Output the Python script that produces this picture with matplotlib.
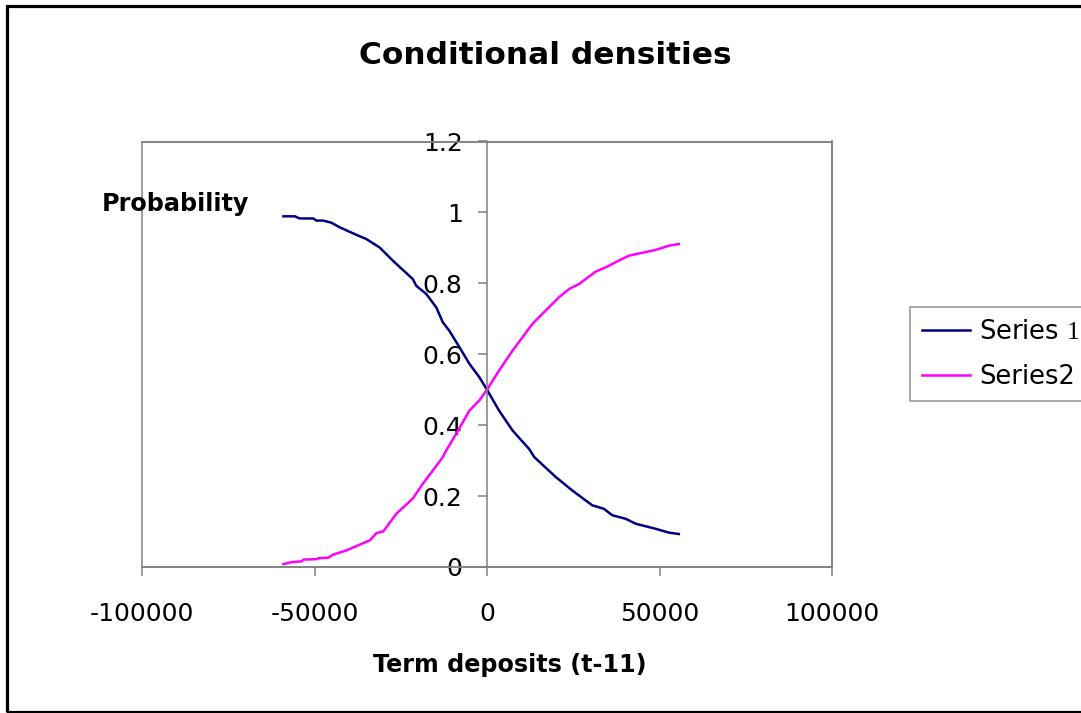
import matplotlib
matplotlib.use("Agg")
import matplotlib.pyplot as plt
from matplotlib.patches import Rectangle

# ---- data ----
x_ticks = [-100000, -50000, 0, 50000, 100000]
x_tick_labels = ["-100000", "-50000", "0", "50000", "100000"]
y_ticks = [0, 0.2, 0.4, 0.6, 0.8, 1.0, 1.2]
y_tick_labels = ["0", "0.2", "0.4", "0.6", "0.8", "1", "1.2"]

series1_x = [-59000, -55700, -54300, -50400, -49400, -47500, -45100, -42700, -37900,
             -35000, -31100, -27300, -21500, -20500, -17600, -14700, -12800, -10900,
             -8000, -5100, -2200, 0, 3500, 7400, 12200, 13700, 19900, 24700, 30500,
             33900, 36300, 40200, 43100, 48800, 52700, 55600]
series1_y = [0.989, 0.989, 0.983, 0.983, 0.977, 0.977, 0.971, 0.958, 0.937,
             0.925, 0.901, 0.864, 0.812, 0.793, 0.770, 0.732, 0.690, 0.666,
             0.620, 0.573, 0.535, 0.500, 0.441, 0.385, 0.333, 0.310, 0.254, 0.216, 0.174,
             0.164, 0.146, 0.136, 0.122, 0.108, 0.097, 0.093]

series2_x = [-59000, -56600, -53700, -53200, -49400, -48900, -46000, -44600, -40700,
             -34000, -32000, -30100, -26300, -21500, -18600, -15700, -12800, -11800,
             -8900, -5100, -2200, 0, 3500, 7400, 13200, 20900, 23800, 26700, 31500,
             34400, 38200, 41100, 48800, 52700, 55600]
series2_y = [0.008, 0.014, 0.016, 0.021, 0.022, 0.025, 0.026, 0.035, 0.047,
             0.075, 0.096, 0.100, 0.150, 0.193, 0.235, 0.272, 0.310, 0.329,
             0.376, 0.441, 0.470, 0.500, 0.554, 0.610, 0.686, 0.761, 0.784, 0.798, 0.833,
             0.845, 0.864, 0.878, 0.894, 0.906, 0.911]

series_names = ["Series $\\mathrm{1}$", "Series2"]

# ---- style ----
plt.rcParams['font.family'] = ['DejaVu Sans']
plt.rcParams['axes.unicode_minus'] = False
plt.rcParams['mathtext.fontset'] = 'custom'
plt.rcParams['mathtext.rm'] = 'Liberation Serif'

W, H = 1081, 713
fig = plt.figure(figsize=(W / 100, H / 100), dpi=100)
fig.patch.set_facecolor('white')

# outer chart border
fig.add_artist(Rectangle((7.5 / W, 1 - 711.5 / H), (1120 - 7.5) / W, (711.5 - 5.5) / H,
                         transform=fig.transFigure, fill=False, edgecolor='black',
                         linewidth=2.3, clip_on=False))

left, right, top, bottom = 142, 832, 141.5, 567
ax = fig.add_axes([left / W, 1 - bottom / H, (right - left) / W, (bottom - top) / H])

gray = '#808080'
ax.plot(series1_x, series1_y, color='#000080', linewidth=1.8, label=series_names[0])
ax.plot(series2_x, series2_y, color='#FF00FF', linewidth=1.8, label=series_names[1])

ax.set_xlim(-100000, 100000)
ax.set_ylim(0, 1.2)

ax.spines['left'].set_position(('data', 0))
for s in ['left', 'right', 'top', 'bottom']:
    ax.spines[s].set_color(gray)
    ax.spines[s].set_linewidth(1.1)
ax.add_patch(Rectangle((0, 0), 1, 1, transform=ax.transAxes, fill=False,
                       edgecolor=gray, linewidth=1.1, clip_on=False, zorder=3))

ax.set_xticks(x_ticks)
ax.set_xticklabels(x_tick_labels)
ax.set_yticks(y_ticks)
ax.set_yticklabels(y_tick_labels)
ax.tick_params(axis='x', direction='out', length=6.5, width=1.1, color=gray,
               labelsize=18, pad=19, labelcolor='black')
ax.tick_params(axis='y', direction='out', length=6.5, width=1.1, color=gray,
               labelsize=18, pad=11, labelcolor='black')

fig.text(545 / W, 1 - 55 / H, "Conditional densities", ha='center', va='center',
         fontsize=22.5, fontweight='bold')
fig.text(102 / W, 1 - 204 / H, "Probability", ha='left', va='center',
         fontsize=17.2, fontweight='bold')
fig.text(510 / W, 1 - 665 / H, "Term deposits (t-11)", ha='center', va='center',
         fontsize=17.2, fontweight='bold')

leg = ax.legend(loc='upper left', bbox_to_anchor=(910 / W, 1 - 307 / H),
                bbox_transform=fig.transFigure, fontsize=18.5, frameon=True,
                fancybox=False, shadow=False, handlelength=1.9, handletextpad=0.35,
                borderpad=0.45, labelspacing=0.75, borderaxespad=0)
leg.get_frame().set_edgecolor(gray)
leg.get_frame().set_linewidth(1.2)
for line in leg.get_lines():
    line.set_linewidth(1.8)

fig.savefig("out.png", dpi=100, facecolor='white')
